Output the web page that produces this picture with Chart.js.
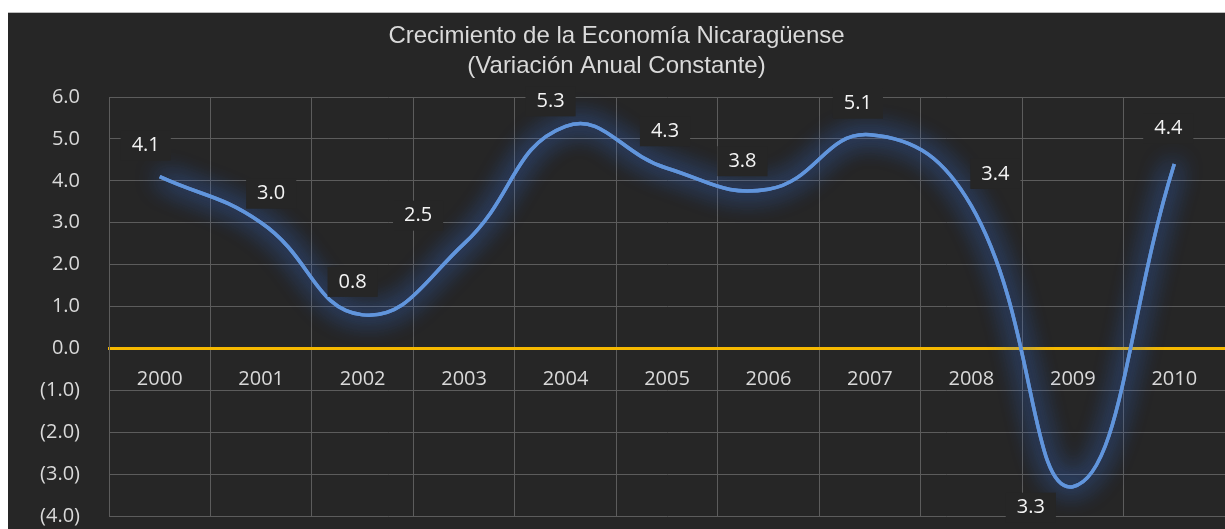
<!DOCTYPE html>
<html>
<head>
<meta charset="utf-8">
<script src="https://cdn.jsdelivr.net/npm/chart.js@4"></script>
<style>
  html, body { margin: 0; padding: 0; background: #ffffff; }
  #frame {
    position: absolute; left: 8px; top: 12px;
    width: 1217px; height: 517px;
    background: #262626;
    border-top: 1px solid #bdbdbd;
    box-sizing: border-box;
  }
</style>
</head>
<body>
<div id="frame"><canvas id="growthChart"></canvas></div>
<script>
// Chart data
const years = ['2000', '2001', '2002', '2003', '2004', '2005', '2006', '2007', '2008', '2009', '2010'];
const growth = [4.1, 3.0, 0.8, 2.5, 5.3, 4.3, 3.8, 5.1, 3.4, -3.3, 4.4];
const yTickLabels = ['(4.0)', '(3.0)', '(2.0)', '(1.0)', '0.0', '1.0', '2.0', '3.0', '4.0', '5.0', '6.0'];
const titleLines = ['Crecimiento de la Economía Nicaragüense', '(Variación Anual Constante)'];

// where each value label sits relative to its point (px)
const labelOffsets = [[-14, -31], [10, -29], [-10, -33], [-46, -28], [-15, -25], [-2, -37],
                      [-26, -28], [-12, -31], [24, -32], [-42, 21], [-6, -36]];

const textColor = '#d9d9d9';
const gridColor = '#5c5c5c';

// Soft blue glow round the line (line drawn once more under a blur)
const glowPlugin = {
    id: 'glow',
    beforeDatasetDraw(chart, args) {
        const ctx = chart.ctx;
        ctx.save();
        ctx.shadowColor = 'rgba(55, 120, 240, 1)';
        ctx.shadowBlur = 26;
        args.meta.dataset.draw(ctx, chart.chartArea);
    },
    afterDatasetDraw(chart) {
        chart.ctx.restore();
    }
};

// Value labels in boxes that hide the gridlines behind them
const valueLabels = {
    id: 'valueLabels',
    afterDatasetsDraw(chart) {
        const ctx = chart.ctx;
        const meta = chart.getDatasetMeta(0);
        ctx.save();
        ctx.font = '20px "Open Sans"';
        ctx.textAlign = 'center';
        ctx.textBaseline = 'middle';
        meta.data.forEach((pt, i) => {
            const text = Math.abs(growth[i]).toFixed(1);
            const x = pt.x + labelOffsets[i][0];
            const y = pt.y + labelOffsets[i][1];
            const w = ctx.measureText(text).width + 22;
            const h = 30;
            ctx.fillStyle = '#262626';
            ctx.fillRect(x - w / 2, y - h / 2, w, h);
            ctx.fillStyle = '#f4f4f4';
            ctx.fillText(text, x, y);
        });
        ctx.restore();
    }
};

const ctx = document.getElementById('growthChart').getContext('2d');
const growthChart = new Chart(ctx, {
    type: 'line',
    data: {
        labels: years,
        datasets: [{
            data: growth,
            borderColor: '#6195dc',
            borderWidth: 3.5,
            tension: 0.45,
            pointRadius: 0,
            fill: false
        }]
    },
    options: {
        responsive: true,
        maintainAspectRatio: false,
        animation: false,
        layout: { padding: { left: 0, right: 0, top: 0, bottom: 13 } },
        plugins: {
            legend: { display: false },
            tooltip: { enabled: false },
            title: {
                display: true,
                text: titleLines,
                color: textColor,
                font: { family: '"Liberation Sans", Arial', size: 24, weight: 'normal', lineHeight: 1.25 },
                padding: { top: 8, bottom: 16 }
            }
        },
        scales: {
            x: {
                position: { y: 0 },
                offset: true,
                afterFit(scale) { scale.height = 0; },
                grid: { color: gridColor, offset: true, drawTicks: false },
                border: { color: '#f5b800', width: 3 },
                ticks: {
                    color: textColor,
                    font: { family: '"Open Sans"', size: 20 },
                    padding: 19,
                    maxRotation: 0
                }
            },
            y: {
                min: -4,
                max: 6,
                grid: { color: gridColor, drawTicks: false },
                border: { color: gridColor },
                afterFit(scale) {
                    scale.width = 101;
                    scale.paddingTop = 0;
                    scale.paddingBottom = 0;
                },
                ticks: {
                    stepSize: 1,
                    color: textColor,
                    font: { family: '"Open Sans"', size: 20 },
                    padding: 29,
                    callback: (value, index) => yTickLabels[index]
                }
            }
        }
    },
    plugins: [glowPlugin, valueLabels]
});
</script>
</body>
</html>
